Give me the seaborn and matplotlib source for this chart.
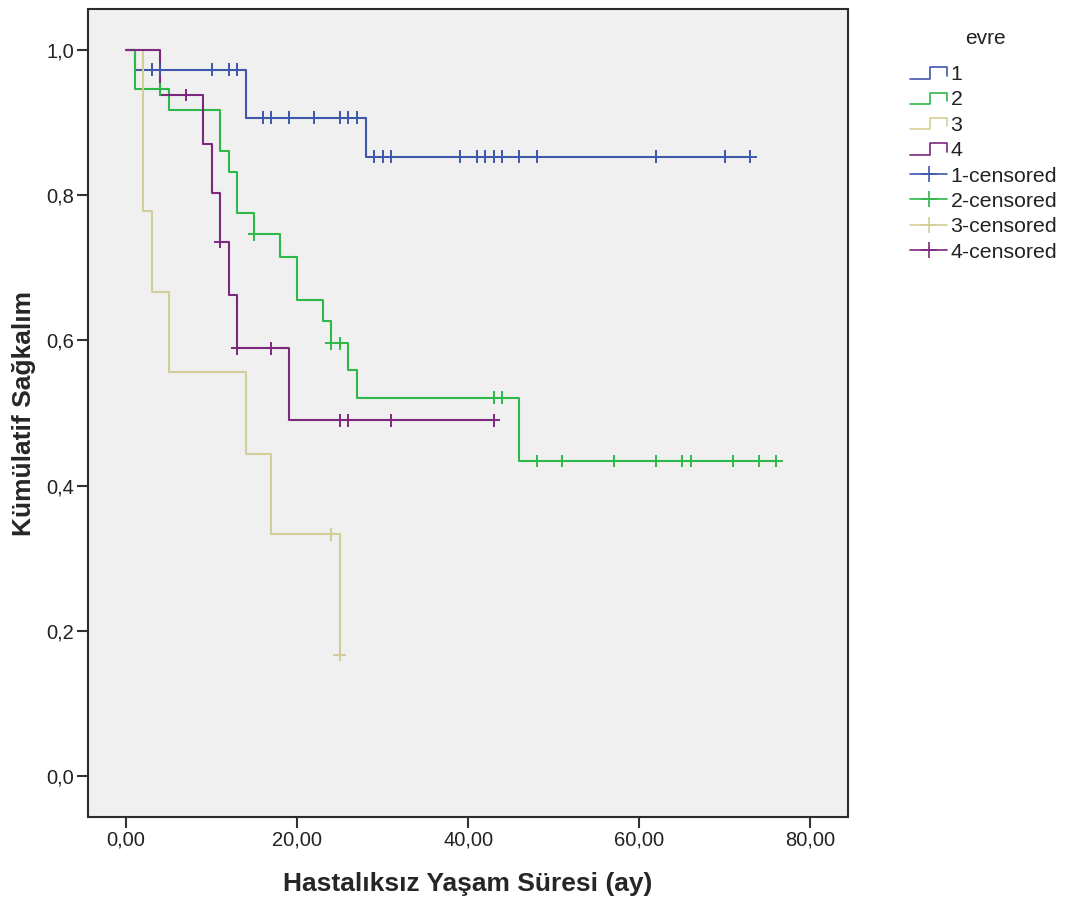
import numpy as np
import pandas as pd
import matplotlib
matplotlib.use("Agg")
import matplotlib.pyplot as plt
from matplotlib.lines import Line2D
from matplotlib.legend_handler import HandlerBase
import seaborn as sns

# evre 1..4: Kaplan-Meier step points (time, survival), last follow-up, censored times
evre1_t = [0, 1, 14, 28]
evre1_s = [1.000, 0.973, 0.907, 0.853]
evre1_end = 73
evre1_cens = [3, 3, 4, 10, 12, 13, 13, 16, 17, 19, 22, 25, 26, 27, 29, 30, 31,
              39, 41, 42, 43, 44, 46, 48, 62, 70, 73]

evre2_t = [0, 1, 5, 11, 12, 13, 15, 18, 20, 23, 24, 26, 27, 46]
evre2_s = [1.000, 0.946, 0.918, 0.861, 0.832, 0.775, 0.746, 0.715, 0.656,
           0.627, 0.596, 0.559, 0.521, 0.434]
evre2_end = 76
evre2_cens = [4, 15, 24, 25, 43, 44, 48, 51, 57, 62, 65, 66, 71, 74, 76]

evre3_t = [0, 2, 3, 5, 14, 17, 25]
evre3_s = [1.000, 0.778, 0.667, 0.556, 0.444, 0.333, 0.167]
evre3_end = 25
evre3_cens = [24, 25]

evre4_t = [0, 4, 9, 10, 11, 12, 13, 19]
evre4_s = [1.000, 0.938, 0.871, 0.803, 0.736, 0.663, 0.589, 0.490]
evre4_end = 43
evre4_cens = [7, 11, 13, 17, 25, 26, 31, 43]

groups = ["1", "2", "3", "4"]
colors = ["#3E58AC", "#2EB848", "#D3CE97", "#7C287D"]

xticks = [0, 20, 40, 60, 80]
yticks = [0.0, 0.2, 0.4, 0.6, 0.8, 1.0]

curves = {
    "1": (evre1_t, evre1_s, evre1_end, evre1_cens),
    "2": (evre2_t, evre2_s, evre2_end, evre2_cens),
    "3": (evre3_t, evre3_s, evre3_end, evre3_cens),
    "4": (evre4_t, evre4_s, evre4_end, evre4_cens),
}

line_rows = []
cens_rows = []
for g, (t, s, end, cens) in curves.items():
    for ti, si in zip(t, s):
        line_rows.append((ti, si, g))
    line_rows.append((end, s[-1], g))
    t_arr = np.array(t)
    for c in cens:
        # censor mark sits on the curve level at that time
        idx = np.searchsorted(t_arr, c, side="right") - 1
        cens_rows.append((c, s[idx], g))

lines_df = pd.DataFrame(line_rows, columns=["time", "surv", "evre"])
cens_df = pd.DataFrame(cens_rows, columns=["time", "surv", "evre"])
pal = dict(zip(groups, colors))

sns.set_style("white", {"axes.facecolor": "#F0F0F0"})
plt.rcParams["font.family"] = ["Liberation Sans", "DejaVu Sans"]

fig = plt.figure(figsize=(10.68, 9.07), dpi=100)
ax = fig.add_axes([88 / 1068, 1 - 817 / 907, 760 / 1068, 808 / 907])

sns.lineplot(data=lines_df, x="time", y="surv", hue="evre", palette=pal,
             estimator=None, sort=False, drawstyle="steps-post",
             linewidth=1.5, legend=False, ax=ax)
sns.scatterplot(data=cens_df, x="time", y="surv", hue="evre", palette=pal,
                marker="+", s=85, linewidth=1.4, legend=False, ax=ax, zorder=3)

ax.set_xlim(-4.44, 84.4)
ax.set_ylim(-0.0565, 1.0565)
ax.set_xticks(xticks)
ax.set_xticklabels([f"{v:.2f}".replace(".", ",") for v in xticks])
ax.set_yticks(yticks)
ax.set_yticklabels([f"{v:.1f}".replace(".", ",") for v in yticks])
ax.tick_params(axis="both", direction="out", length=8, width=1.5,
               color="#333333", labelsize=14.5, labelcolor="#222222", pad=2,
               left=True, bottom=True)
for sp in ax.spines.values():
    sp.set_color("#2b2b2b")
    sp.set_linewidth(1.5)

ax.set_xlabel("Hastalıksız Yaşam Süresi (ay)", fontsize=19, fontweight="bold")
ax.set_ylabel("Kümülatif Sağkalım", fontsize=19, fontweight="bold")
ax.xaxis.set_label_coords(0.5, -0.068)
ax.yaxis.set_label_coords(-0.068, 0.5)


class StepHandler(HandlerBase):
    """legend glyph drawn as a small step, like the SPSS survival legend"""
    def create_artists(self, legend, orig_handle, xdescent, ydescent,
                       width, height, fontsize, trans):
        x0, y0 = -xdescent, -ydescent
        xs = [x0, x0 + 0.55 * width, x0 + 0.55 * width, x0 + width, x0 + width]
        ys = [y0 + 0.1 * height, y0 + 0.1 * height, y0 + 0.85 * height,
              y0 + 0.85 * height, y0 + 0.3 * height]
        ln = Line2D(xs, ys, color=orig_handle.get_color(), linewidth=1.2,
                    transform=trans)
        return [ln]


step_handles = [Line2D([], [], color=c) for c in colors]
cens_handles = [Line2D([], [], color=c, marker="+", markersize=11,
                       markeredgewidth=1.2, linewidth=1.2) for c in colors]
handles = step_handles + cens_handles
labels = groups + [f"{g}-censored" for g in groups]

fig.text(985 / 1068, 1 - 38 / 907, "evre", ha="center", va="center",
         fontsize=15, color="#222222")
leg = ax.legend(handles, labels, loc="upper left",
                bbox_to_anchor=(910 / 1068, 1 - 65 / 907),
                bbox_transform=fig.transFigure, frameon=False,
                fontsize=15.3, handlelength=1.75, handletextpad=0.15,
                labelspacing=0.3, numpoints=1, borderaxespad=0, borderpad=0,
                handler_map={h: StepHandler() for h in step_handles})
for t in leg.get_texts():
    t.set_color("#222222")

fig.savefig("out.png", dpi=100)
